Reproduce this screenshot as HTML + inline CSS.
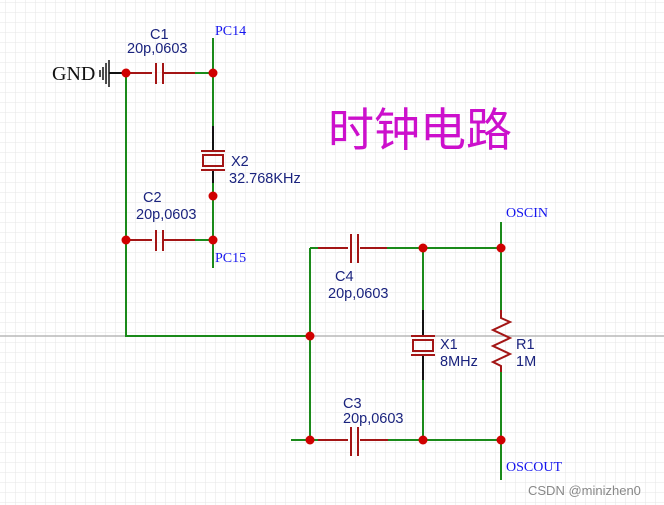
<!DOCTYPE html>
<html><head><meta charset="utf-8"><style>
html,body{margin:0;padding:0;background:#fff;}
svg{display:block;}
.l{font-family:"Liberation Sans",sans-serif;font-size:14.5px;fill:#1a237e;}
.p{font-family:"Liberation Serif",serif;font-size:14px;fill:#1515ee;}
</style></head><body>
<svg width="664" height="505" viewBox="0 0 664 505" xmlns="http://www.w3.org/2000/svg">
<defs><pattern id="g" width="10" height="10" patternUnits="userSpaceOnUse" x="6" y="3"><path d="M10 0V10M0 10H10" stroke="#e6e6e6" stroke-width="1" fill="none"/></pattern></defs>
<rect width="664" height="505" fill="url(#g)"/>
<line x1="0" y1="336" x2="664" y2="336" stroke="#b8b8b8" stroke-width="1.5"/>
<g stroke-width="2" fill="none">
<text x="52" y="80" font-family="Liberation Serif,serif" font-size="20" fill="#111" stroke="none">GND</text>
<path d="M100 70V77M103 67V80M106 63V84M109 60V87" stroke="#111" stroke-width="1.5"/>
<path d="M109 73H126" stroke="#111"/>
<path d="M126 73H152M164 73H195" stroke="#a31515"/>
<path d="M156 63V84M163 63V84" stroke="#a31515"/>
<path d="M195 73H213M213 38V126M213 183V268" stroke="#1a8a1a"/>
<path d="M213 126V150M213 170V183" stroke="#111"/>
<path d="M201 151H225M201 170H225" stroke="#a31515"/>
<rect x="203" y="155" width="20" height="11" stroke="#a31515"/>
<path d="M126 240H152M164 240H195" stroke="#a31515"/>
<path d="M156 230V251M163 230V251" stroke="#a31515"/>
<path d="M195 240H213" stroke="#1a8a1a"/>
<path d="M126 73V336H310M310 248V440M291 440H318M310 248H318" stroke="#1a8a1a"/>
<path d="M318 248H348M360 248H387" stroke="#a31515"/>
<path d="M351 234V263M358 234V263" stroke="#a31515"/>
<path d="M387 248H501M501 222V310M501 372V480M423 248V310M423 380V440M388 440H501" stroke="#1a8a1a"/>
<path d="M318 440H348M360 440H388" stroke="#a31515"/>
<path d="M351 427V456M358 427V456" stroke="#a31515"/>
<path d="M423 310V336M423 354V380" stroke="#111"/>
<path d="M411 336H435M411 355H435" stroke="#a31515"/>
<rect x="413" y="340" width="20" height="11" stroke="#a31515"/>
<path d="M501 310V318L510 322L493 330L510 338L493 346L510 354L493 362L501 366V372" stroke="#a31515"/>
</g>
<g fill="#d00000">
<circle cx="126" cy="73" r="4.5"/><circle cx="213" cy="73" r="4.5"/><circle cx="213" cy="196" r="4.5"/>
<circle cx="126" cy="240" r="4.5"/><circle cx="213" cy="240" r="4.5"/>
<circle cx="310" cy="336" r="4.5"/><circle cx="423" cy="248" r="4.5"/><circle cx="501" cy="248" r="4.5"/>
<circle cx="310" cy="440" r="4.5"/><circle cx="423" cy="440" r="4.5"/><circle cx="501" cy="440" r="4.5"/>
</g>
<text class="p" x="215" y="35">PC14</text>
<text class="p" x="215" y="262">PC15</text>
<text class="p" x="506" y="217">OSCIN</text>
<text class="p" x="506" y="471">OSCOUT</text>
<text class="l" x="150" y="39">C1</text><text class="l" x="127" y="53">20p,0603</text>
<text class="l" x="231" y="166">X2</text><text class="l" x="229" y="183">32.768KHz</text>
<text class="l" x="143" y="202">C2</text><text class="l" x="136" y="219">20p,0603</text>
<text class="l" x="335" y="281">C4</text><text class="l" x="328" y="298">20p,0603</text>
<text class="l" x="440" y="349">X1</text><text class="l" x="440" y="366">8MHz</text>
<text class="l" x="516" y="349">R1</text><text class="l" x="516" y="366">1M</text>
<text class="l" x="343" y="408">C3</text><text class="l" x="343" y="423">20p,0603</text>
<text x="328" y="146" font-family="'Noto Sans CJK SC',sans-serif" font-size="46" fill="#cc10cc">时钟电路</text>
<text x="528" y="495" font-family="'Liberation Sans',sans-serif" font-size="13" fill="#888">CSDN @minizhen0</text>
</svg>
</body></html>
